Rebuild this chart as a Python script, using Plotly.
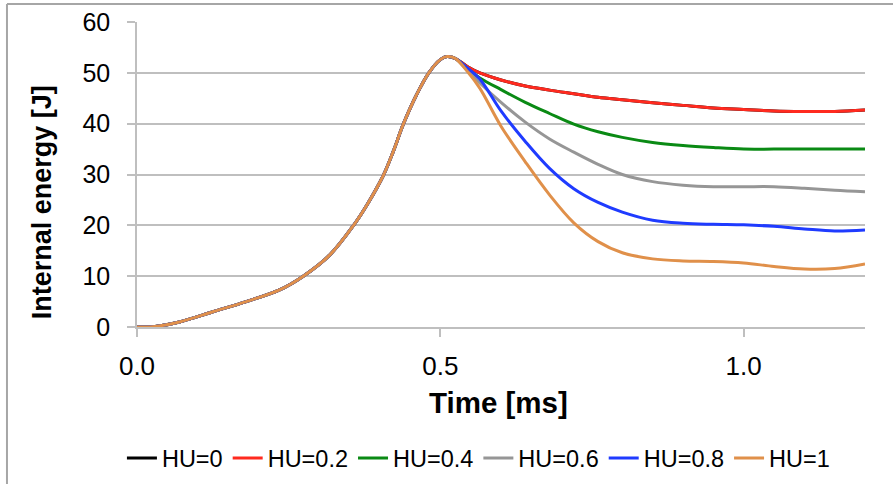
import plotly.graph_objects as go

# Time axis shared by every run [ms]
time_ms = [0.0, 0.03, 0.07, 0.125, 0.18, 0.235, 0.274, 0.318, 0.357, 0.381, 0.406, 0.422,
           0.439, 0.46, 0.481, 0.50, 0.511, 0.525, 0.545, 0.565, 0.60, 0.64, 0.68, 0.72,
           0.76, 0.80, 0.85, 0.90, 0.95, 1.00, 1.05, 1.10, 1.15, 1.20]

# Common loading phase (identical for all HU values) up to the peak
rise = [0.0, 0.1, 1.0, 3.0, 5.0, 7.3, 10.0, 14.2, 20.0, 24.4, 29.8, 34.4,
        39.9, 45.5, 50.0, 52.6, 53.2, 52.8]

# Unloading phase, one list per HU value
tail_hu00 = [51.2, 50.0, 48.6, 47.4, 46.6, 45.9, 45.2, 44.7, 44.1, 43.6, 43.1, 42.8, 42.5, 42.4, 42.4, 42.7]
tail_hu02 = [51.2, 50.0, 48.6, 47.4, 46.6, 45.9, 45.2, 44.7, 44.1, 43.6, 43.1, 42.8, 42.5, 42.4, 42.4, 42.7]
tail_hu04 = [50.8, 49.0, 46.7, 44.2, 42.0, 39.9, 38.4, 37.3, 36.3, 35.7, 35.3, 35.0, 35.0, 35.0, 35.0, 35.0]
tail_hu06 = [50.4, 48.0, 44.2, 40.3, 37.0, 34.4, 32.0, 30.0, 28.6, 27.9, 27.6, 27.6, 27.6, 27.3, 26.9, 26.6]
tail_hu08 = [50.9, 48.8, 42.5, 36.5, 31.2, 27.2, 24.5, 22.6, 21.0, 20.4, 20.2, 20.1, 19.8, 19.3, 18.9, 19.1]
tail_hu10 = [50.2, 47.0, 39.5, 32.5, 26.0, 20.5, 16.8, 14.6, 13.4, 13.0, 12.9, 12.6, 11.9, 11.4, 11.5, 12.4]

series_names = ["HU=0", "HU=0.2", "HU=0.4", "HU=0.6", "HU=0.8", "HU=1"]
series_tails = [tail_hu00, tail_hu02, tail_hu04, tail_hu06, tail_hu08, tail_hu10]
series_colors = ["#000000", "#FF2A1F", "#0A8A14", "#969696", "#1F3BFF", "#E0904A"]

y_ticks = [0, 10, 20, 30, 40, 50, 60]
x_ticks = [0.0, 0.5, 1.0]
x_tick_labels = ["0.0", "0.5", "1.0"]

FONT = "Liberation Sans, Arial, sans-serif"
AXIS_GREY = "#BFBFBF"

fig = go.Figure()
for name, tail, color in zip(series_names, series_tails, series_colors):
    fig.add_trace(go.Scatter(
        x=time_ms, y=rise + tail, name=name, mode="lines",
        line=dict(color=color, width=3, shape="spline", smoothing=1.0),
    ))

fig.update_layout(
    width=893, height=484,
    margin=dict(l=137, r=28, t=22, b=157, autoexpand=False),
    paper_bgcolor="white", plot_bgcolor="white",
    font=dict(family=FONT, color="#000000"),
    showlegend=True,
    legend=dict(
        orientation="h", x=0.469, xanchor="center", y=-0.43, yanchor="middle",
        font=dict(size=23.5, family=FONT), itemwidth=30, tracegroupgap=0,
        bgcolor="rgba(0,0,0,0)",
    ),
    xaxis=dict(
        range=[0, 1.2], tickvals=x_ticks, ticktext=x_tick_labels,
        showgrid=False, zeroline=False, automargin=False,
        showline=True, linecolor=AXIS_GREY, linewidth=1.5,
        ticks="outside", ticklen=8, tickcolor=AXIS_GREY, tickwidth=1.5,
        ticklabelstandoff=7,
        tickfont=dict(size=26, family=FONT),
    ),
    yaxis=dict(
        range=[0, 60], tickvals=y_ticks,
        showgrid=True, gridcolor=AXIS_GREY, gridwidth=1.5, zeroline=False,
        automargin=False,
        showline=True, linecolor=AXIS_GREY, linewidth=1.5,
        ticks="outside", ticklen=8, tickcolor=AXIS_GREY, tickwidth=1.5,
        ticklabelstandoff=12,
        tickfont=dict(size=25, family=FONT),
    ),
    annotations=[
        dict(text="<b>Internal energy [J]</b>", xref="paper", yref="paper",
             x=-0.13, y=0.41, xanchor="center", yanchor="middle", textangle=-90,
             showarrow=False, font=dict(size=27, family=FONT)),
        dict(text="<b>Time [ms]</b>", xref="paper", yref="paper",
             x=0.497, y=-0.248, xanchor="center", yanchor="middle",
             showarrow=False, font=dict(size=29.5, family=FONT)),
    ],
    shapes=[
        dict(type="line", xref="paper", yref="paper", x0=-0.1786, x1=1.2,
             y0=1.059, y1=1.059, line=dict(color="#A6A6A6", width=2)),
        dict(type="line", xref="paper", yref="paper", x0=-0.1786, x1=-0.1786,
             y0=1.059, y1=-0.7, line=dict(color="#A6A6A6", width=2)),
    ],
)

fig.write_html("out.html")
